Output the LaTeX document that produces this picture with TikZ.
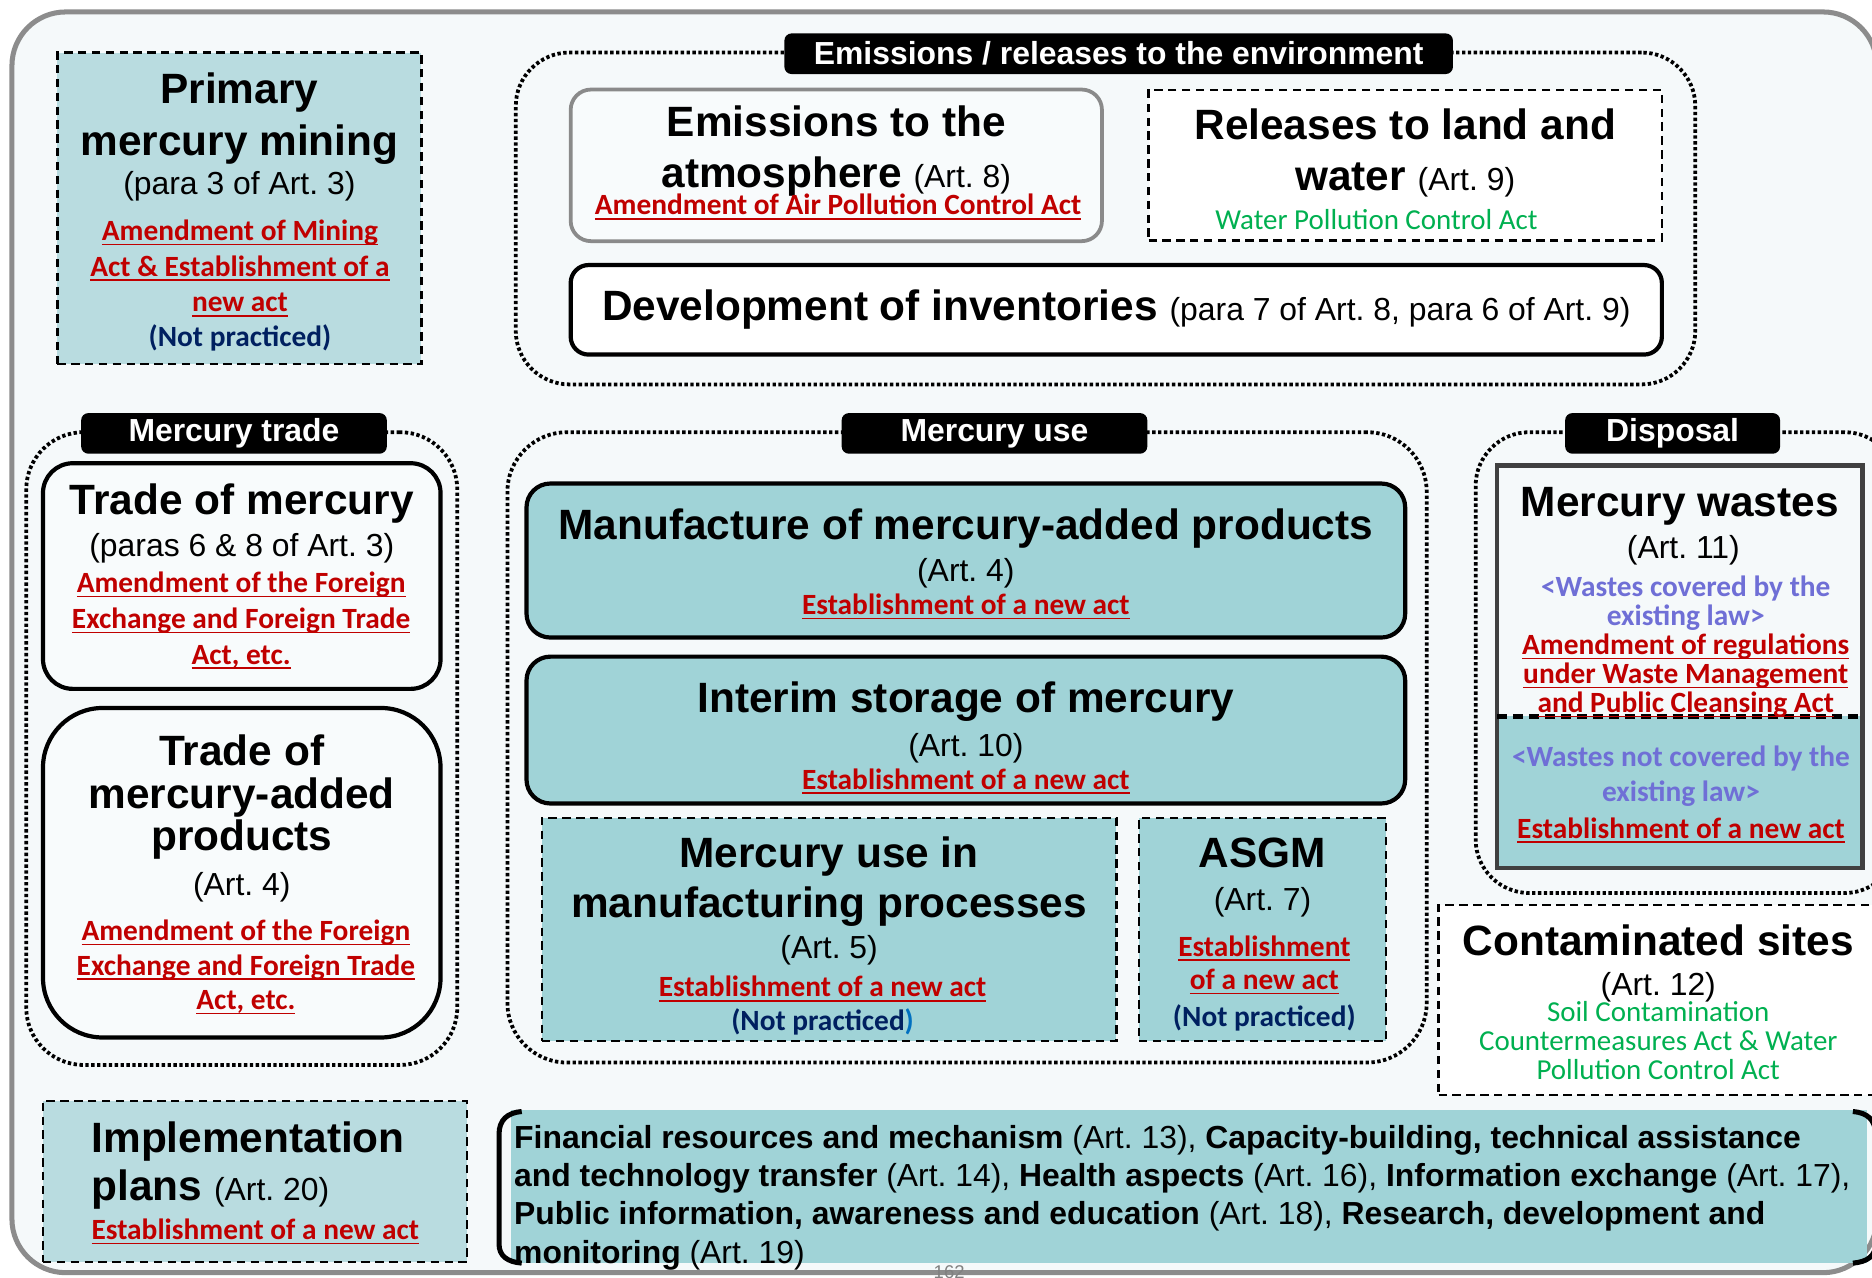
\documentclass[tikz,border=0pt]{standalone}
\usepackage{fontspec}
\setmainfont{Liberation Sans}
\newfontfamily\calib{Carlito}
\lineskiplimit=-20pt
\definecolor{panelbg}{HTML}{F5F9FA}
\definecolor{boxbg}{HTML}{F8FBFC}
\definecolor{panelgray}{HTML}{8C8C8C}
\definecolor{atmosgray}{HTML}{8A8A8A}
\definecolor{wastegray}{HTML}{404040}
\definecolor{tealfill}{HTML}{A0D3D7}
\definecolor{minefill}{HTML}{B9DCE0}
\definecolor{lawred}{HTML}{C00000}
\definecolor{noteblue}{HTML}{002060}
\definecolor{notelight}{HTML}{0070C0}
\definecolor{wastepurple}{HTML}{6F6FD6}
\definecolor{actgreen}{HTML}{00B050}
\newcommand\lawul[1]{\leavevmode\setbox0\hbox{#1}\rlap{\rule[-1.1pt]{\wd0}{0.35pt}}\box0}
\newcommand\artsz{\fontsize{7.6}{9}\selectfont\mdseries}
\tikzset{
  panel/.style={draw=panelgray,line width=1.2pt,fill=panelbg,rounded corners=4.5mm},
  group/.style={draw=black,line width=0.9pt,dash pattern=on 0.8pt off 0.6pt,rounded corners=#1,inner sep=0pt},
  tag/.style={fill=black,text=white,inner sep=0pt,minimum height=3.4mm,rounded corners=0.6mm,font=\fontsize{7.6}{9}\selectfont\bfseries},
  dashbox/.style={draw=black,line width=0.6pt,dash pattern=on 2pt off 1.3pt,inner sep=0pt},
  blackbox/.style={draw=black,line width=1pt,inner sep=0pt},
  greybox/.style={draw=atmosgray,line width=0.9pt,rounded corners=1.7mm,fill=boxbg,inner sep=0pt},
  wastebox/.style={draw=wastegray,line width=1.1pt,inner sep=0pt},
  bracket/.style={draw=black,line width=1.2pt},
  txt/.style={inner sep=0pt,anchor=base,text width=100mm,align=flush center},
  txhead/.style={txt,font=\fontsize{10.1}{12.2}\selectfont\bfseries},
  txart/.style={txt,font=\fontsize{7.6}{9}\selectfont},
  txlaw/.style={txt,text=lawred,font=\calib\bfseries\fontsize{7}{8.5}\selectfont},
  txnote/.style={txt,text=noteblue,font=\calib\bfseries\fontsize{7}{8.5}\selectfont},
  txwaste/.style={txt,text=wastepurple,font=\calib\bfseries\fontsize{7}{6.9}\selectfont},
  txgreen/.style={txt,text=actgreen,font=\calib\fontsize{6.9}{6.9}\selectfont}
}
\begin{document}
\frenchspacing
\begin{tikzpicture}[x=0.1mm,y=-0.1mm]
\useasboundingbox (0,0) rectangle (1568,1070);
\clip (0,0) rectangle (1568,1070);
\draw[panel] (10,10) rectangle (1572,1066);

\node[group=4.5mm,minimum width=98.8mm,minimum height=27.8mm] (emitgroup) at (926,183) {};
\node[group=4.8mm,minimum width=36.1mm,minimum height=53mm] (tradegroup) at (202.5,627) {};
\node[group=5mm,minimum width=77mm,minimum height=52.8mm] (usegroup) at (810,626) {};
\node[group=4.5mm,minimum width=35.4mm,minimum height=38.6mm] (disposalgroup) at (1413,555) {};
\node[tag,minimum width=56mm] (emittag) at (937,45) {Emissions / releases to the environment};
\node[tag,minimum width=25.6mm] (tradetag) at (196,363) {Mercury trade};
\node[tag,minimum width=25.6mm] (usetag) at (833,363) {Mercury use};
\node[tag,minimum width=18mm] (disposaltag) at (1401,363) {Disposal};

\node[dashbox,fill=minefill,minimum width=30.5mm,minimum height=26.1mm] (mining) at (200.5,174.5) {};
\node[txhead] (miningname) at (200.5,87) {Primary\\mercury mining};
\node[txart] (miningart) at (200.5,163) {(para 3 of Art. 3)};
\node[txlaw] (mininglaw) at (201,201.5) {\lawul{Amendment of Mining}\\\lawul{Act \& Establishment of a}\\\lawul{new act}};
\node[txnote] (miningnote) at (201,290) {(Not practiced)};

\node[greybox,minimum width=44.5mm,minimum height=12.7mm] (atmos) at (700.5,138.5) {};
\node[txhead] (atmosname) at (700.5,114) {Emissions to the\\atmosphere {\artsz(Art. 8)}};
\node[txlaw] (atmoslaw) at (702,180) {\lawul{Amendment of Air Pollution Control Act}};
\node[dashbox,fill=white,minimum width=43mm,minimum height=12.6mm] (release) at (1177,138.5) {};
\node[txhead] (releasename) at (1177,117) {Releases to land and\\water {\artsz(Art. 9)}};
\node[txgreen] (releaselaw) at (1153,192.5) {Water Pollution Control Act};
\node[blackbox,rounded corners=1.5mm,fill=white,minimum width=91.4mm,minimum height=7.5mm] (invent) at (935,259.5) {};
\node[txhead] (inventname) at (935,268.5) {Development of inventories {\artsz(para 7 of Art. 8, para 6 of Art. 9)}};

\node[blackbox,rounded corners=2.5mm,fill=boxbg,minimum width=33.3mm,minimum height=18.9mm] (hgtrade) at (202.5,482.5) {};
\node[txhead] (hgtradename) at (202.5,431) {Trade of mercury};
\node[txart] (hgtradeart) at (202.5,466.5) {(paras 6 \& 8 of Art. 3)};
\node[txlaw] (hgtradelaw) at (202,496.5) {\lawul{Amendment of the Foreign}\\\lawul{Exchange and Foreign Trade}\\\lawul{Act, etc.}};
\node[blackbox,rounded corners=5mm,fill=boxbg,minimum width=33.3mm,minimum height=27.6mm] (prodtrade) at (202.5,731) {};
\node[txhead,font=\fontsize{10.1}{10.2}\selectfont\bfseries] (prodtradename) at (202.5,641) {Trade of\\mercury-added\\products};
\node[txart] (prodtradeart) at (202.5,750) {(Art. 4)};
\node[txlaw,font=\calib\bfseries\fontsize{7}{8.2}\selectfont] (prodtradelaw) at (206,788) {\lawul{Amendment of the Foreign}\\\lawul{Exchange and Foreign Trade}\\\lawul{Act, etc.}};

\node[blackbox,rounded corners=2mm,fill=tealfill,minimum width=73.6mm,minimum height=12.9mm] (manuf) at (809,469.5) {};
\node[txhead] (manufname) at (809,452) {Manufacture of mercury-added products};
\node[txart] (manufart) at (809,487) {(Art. 4)};
\node[txlaw] (manuflaw) at (809,515) {\lawul{Establishment of a new act}};
\node[blackbox,rounded corners=2mm,fill=tealfill,minimum width=73.6mm,minimum height=12.3mm] (storage) at (809,611.5) {};
\node[txhead] (storagename) at (809,596.5) {Interim storage of mercury};
\node[txart] (storageart) at (809,634) {(Art. 10)};
\node[txlaw] (storagelaw) at (809,661) {\lawul{Establishment of a new act}};
\node[dashbox,fill=tealfill,minimum width=48.1mm,minimum height=18.7mm] (process) at (694.5,778.5) {};
\node[txhead,font=\fontsize{10.1}{11.8}\selectfont\bfseries] (processname) at (694.5,727) {Mercury use in\\manufacturing processes};
\node[txart] (processart) at (694.5,802.5) {(Art. 5)};
\node[txlaw] (processlaw) at (689,835) {\lawul{Establishment of a new act}};
\node[txnote] (processnote) at (689,863) {(Not practiced\textcolor{notelight}{)}};
\node[dashbox,fill=tealfill,minimum width=20.7mm,minimum height=18.7mm] (asgm) at (1057.5,778.5) {};
\node[txhead] (asgmname) at (1057.5,727) {ASGM};
\node[txart] (asgmart) at (1057.5,763) {(Art. 7)};
\node[txlaw,font=\calib\bfseries\fontsize{7}{8}\selectfont] (asgmlaw) at (1059,801) {\lawul{Establishment}\\\lawul{of a new act}};
\node[txnote] (asgmnote) at (1059,859.5) {(Not practiced)};

\fill[tealfill] (1254,600) rectangle (1560,727);
\node[wastebox,minimum width=30.6mm,minimum height=33.7mm] (wastes) at (1407,558.5) {};
\draw[line width=1.1pt,dash pattern=on 2.4pt off 1.4pt] (1254,600) -- (1560,600);
\node[txhead] (wastesname) at (1407,433) {Mercury wastes};
\node[txart] (wastesart) at (1410,467.5) {(Art. 11)};
\node[txwaste] (coveredlaw) at (1412,499.5) {<Wastes covered by the\\existing law>};
\node[txlaw,font=\calib\bfseries\fontsize{7}{6.9}\selectfont] (coveredact) at (1412,548.5) {\lawul{Amendment of regulations}\\\lawul{under Waste Management}\\\lawul{and Public Cleansing Act}};
\node[txwaste,font=\calib\bfseries\fontsize{7}{8.25}\selectfont] (uncoveredlaw) at (1408,642) {<Wastes not covered by the\\existing law>};
\node[txlaw] (uncoveredact) at (1408,702) {\lawul{Establishment of a new act}};

\node[dashbox,fill=white,minimum width=38.5mm,minimum height=15.9mm] (sites) at (1397.5,837.5) {};
\node[txhead] (sitesname) at (1389,800) {Contaminated sites};
\node[txart] (sitesart) at (1389,833.5) {(Art. 12)};
\node[txgreen] (siteslaw) at (1389,855.5) {Soil Contamination\\Countermeasures Act \& Water\\Pollution Control Act};

\node[dashbox,fill=minefill,minimum width=35.5mm,minimum height=13.5mm] (implplan) at (213.5,989.5) {};
\node[txhead,anchor=base west,align=flush left,font=\fontsize{10.1}{11.5}\selectfont\bfseries] (implname) at (76,965) {Implementation\\plans {\artsz(Art. 20)}};
\node[txlaw,anchor=base west,align=flush left] (impllaw) at (76,1038.5) {\lawul{Establishment of a new act}};

\node[fill=tealfill,inner sep=0pt,minimum width=113.6mm,minimum height=12.8mm] (support) at (996,994) {};
\draw[bracket] (437,931) .. controls (425,932) and (418,938) .. (418,950) -- (418,1042) .. controls (418,1052) and (425,1057) .. (437,1058);
\draw[bracket] (1552,931) .. controls (1564,932) and (1571,938) .. (1571,950) -- (1571,1042) .. controls (1571,1052) and (1564,1057) .. (1552,1058);
\node[txt,anchor=base west,align=flush left,text width=130mm,font=\fontsize{7.6}{9.1}\selectfont] (supporttext) at (430,962) {\textbf{Financial resources and mechanism} (Art. 13), \textbf{Capacity-building, technical assistance}\\\textbf{and technology transfer} (Art. 14), \textbf{Health aspects} (Art. 16), \textbf{Information exchange} (Art. 17),\\\textbf{Public information, awareness and education} (Art. 18), \textbf{Research, development and}\\\textbf{monitoring} (Art. 19)};
\node[inner sep=0pt,anchor=base,text=gray,font=\fontsize{4.4}{5}\selectfont] (pagenum) at (795,1071) {162};
\end{tikzpicture}
\end{document}
